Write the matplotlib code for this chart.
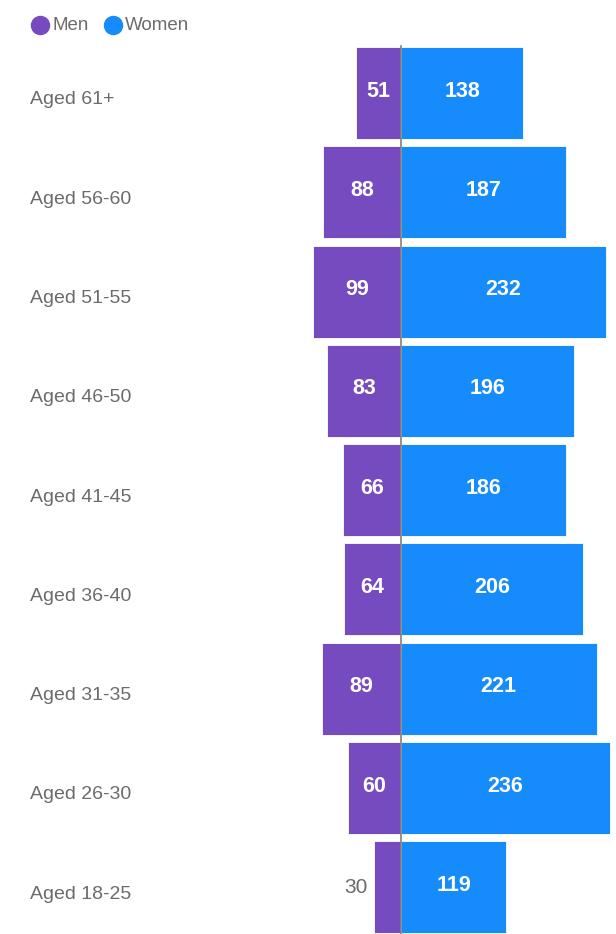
import matplotlib.pyplot as plt
from matplotlib.lines import Line2D

plt.rcParams['font.family'] = ['Liberation Sans', 'DejaVu Sans']

# data
groups = ['Aged 61+', 'Aged 56-60', 'Aged 51-55', 'Aged 46-50', 'Aged 41-45',
          'Aged 36-40', 'Aged 31-35', 'Aged 26-30', 'Aged 18-25']
men = [51, 88, 99, 83, 66, 64, 89, 60, 30]
women = [138, 187, 232, 196, 186, 206, 221, 236, 119]

men_color = '#774BC0'
women_color = '#168BFC'
text_gray = '#6b6b6b'

fig = plt.figure(figsize=(6.16, 9.34), dpi=100)
ax = fig.add_axes([0, 0, 1, 1])

pos = list(range(len(groups)))
ax.barh(pos, [-m for m in men], height=0.927, color=men_color, edgecolor='white', linewidth=0.6)
ax.barh(pos, women, height=0.927, color=women_color, edgecolor='white', linewidth=0.6)

# center line
ax.plot([0, 0], [-0.47, 8.6], color='#808080', linewidth=1.2, zorder=3)

for i, g in enumerate(groups):
    ax.text(30 / 616, i + 0.07, g, transform=ax.get_yaxis_transform(), ha='left', va='center',
            fontsize=14, color=text_gray)
    m = men[i]
    if m < 40:
        ax.text(-m - 8, i, str(m), ha='right', va='center', fontsize=15, color=text_gray)
    else:
        ax.text(-m / 2, i - 0.02, str(m), ha='center', va='center', fontsize=15.5,
                color='white', fontweight='bold')
    w = women[i]
    ax.text(w / 2, i - 0.02, str(w), ha='center', va='center', fontsize=15.5,
            color='white', fontweight='bold')

ax.set_xlim(-453, 243)
ax.set_ylim(8.47, -0.937)
ax.axis('off')

# legend
ly = 1 - 25 / 934
fig.add_artist(Line2D([40 / 616], [ly], marker='o', markersize=13,
                      color=men_color, transform=fig.transFigure))
fig.text(52 / 616, ly, 'Men', ha='left', va='center', fontsize=13.5, color=text_gray)
fig.add_artist(Line2D([113 / 616], [ly], marker='o', markersize=13,
                      color=women_color, transform=fig.transFigure))
fig.text(125 / 616, ly, 'Women', ha='left', va='center', fontsize=13.5, color=text_gray)

fig.savefig('out.png', dpi=100)
